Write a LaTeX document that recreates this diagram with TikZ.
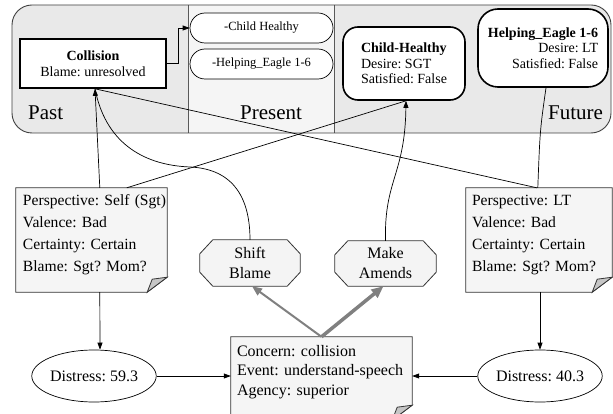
\documentclass[tikz,border=0pt]{standalone}
\usepackage{fontspec}
\setmainfont{Liberation Serif}
\usetikzlibrary{calc,shapes.geometric,arrows.meta,backgrounds}
\newcommand\mynote[2]{%
  \path[notefill] (#1.north west) -- (#1.north east) -- ($(#1.south east)+(0,#2-15)$) -- ($(#1.south east)+(-20,#2)$) -- ($(#1.south west)+(0,#2)$) -- cycle;
  \path[foldfill] ($(#1.south east)+(-20,#2)$) -- ($(#1.south east)+(0,#2-15)$) -- ($(#1.south east)+(-15,#2-13)$) -- cycle;}
\newcommand\myocto[1]{%
  \path[octfill] ($(#1.north west)+(13,0)$) -- ($(#1.north east)+(-13,0)$) -- ($(#1.north east)+(0,14)$) -- ($(#1.south east)+(0,-14)$) -- ($(#1.south east)+(-13,0)$) -- ($(#1.south west)+(13,0)$) -- ($(#1.south west)+(0,-14)$) -- ($(#1.north west)+(0,14)$) -- cycle;}
\begin{document}
\frenchspacing
\begin{tikzpicture}[x=1pt,y=-1pt,
  line/.style={draw=black, line width=0.7pt},
  tip/.style={-{Triangle[length=7pt,width=5pt]}},
  gline/.style={draw=gray},
  seclab/.style={anchor=base west, inner sep=0pt, font=\fontsize{21}{24}\selectfont},
  collbox/.style={draw, line width=1.6pt, fill=white, minimum width=146pt, minimum height=49pt, align=center, inner sep=0pt, font=\fontsize{14}{16}\selectfont},
  pill/.style={draw, line width=0.7pt, fill=white, rounded corners=15pt, minimum width=143pt, minimum height=30pt, inner sep=0pt, font=\fontsize{12.5}{14}\selectfont},
  goal/.style={draw, line width=1.6pt, fill=white, inner sep=0pt, font=\fontsize{14}{15.5}\selectfont},
  notetext/.style={inner xsep=7pt, inner ysep=0pt, minimum height=94pt, align=left, font=\fontsize{15.6}{22}\selectfont},
  notefill/.style={draw=black!80, line width=0.8pt, fill=gray!8},
  foldfill/.style={draw=black!80, line width=0.8pt, fill=gray!45},
  octo/.style={minimum width=100pt, minimum height=46pt, inner sep=0pt, align=center, font=\fontsize{16}{20}\selectfont},
  octfill/.style={draw=black!80, line width=0.8pt, fill=gray!9},
  dist/.style={ellipse, draw, line width=0.7pt, fill=white, minimum height=52pt, inner sep=0pt, font=\fontsize{16}{18}\selectfont}
]
\useasboundingbox (0,0) rectangle (613,414);
\begin{scope}[on background layer]
  \fill[white] (0,0) rectangle (613,414);
\end{scope}
% timeline panel
\fill[gray!17, rounded corners=20pt] (12,5) rectangle (611,133);
\fill[gray!8] (188,5) rectangle (334,133);
\draw[black!65, line width=0.8pt] (188,5) -- (188,133) (334,5) -- (334,133);
\draw[black!75, line width=0.9pt, rounded corners=20pt] (12,5) rectangle (611,133);
\node[seclab] (past) at (28,120) {Past};
\node[seclab] (present) at (240,120) {Present};
\node[seclab] (future) at (548,120) {Future};
% panel nodes
\node[collbox] (coll) at (93,63.5) {\textbf{Collision}\\Blame: unresolved};
\node[pill] (pch) at (261.5,28) {-Child Healthy};
\node[pill] (phe) at (261.5,64) {-Helping\_Eagle 1-6};
\node[goal, minimum width=122pt, minimum height=73pt, rounded corners=15pt, align=left] (chg) at (404,63.5) {\textbf{Child-Healthy}\\Desire: SGT\\Satisfied: False};
\node[goal, minimum width=130pt, minimum height=78pt, rounded corners=20pt, align=right] (he) at (543,48) {\textbf{Helping\_Eagle 1-6}\\Desire: LT\\Satisfied: False};
% notes
\node[notetext, text width=137pt] (pl) at (91.5,235) {Perspective:~Self~(Sgt)\\Valence: Bad\\Certainty: Certain\\Blame: Sgt? Mom?};
\node[notetext, text width=134pt, inner xsep=6pt] (pr) at (539,235) {Perspective: LT\\Valence: Bad\\Certainty: Certain\\Blame: Sgt? Mom?};
\node[notetext, text width=169pt, inner xsep=6pt, minimum height=70pt, font=\fontsize{16}{19.5}\selectfont] (con) at (321.5,372) {Concern: collision\\Event:~understand-speech\\Agency: superior};
% coping strategies
\node[octo] (sb) at (250,263) {Shift\\Blame};
\node[octo, minimum width=101pt, minimum height=45pt] (ma) at (385.5,263.5) {Make\\Amends};
\begin{scope}[on background layer]
  \mynote{pl}{10}
  \mynote{pr}{10}
  \mynote{con}{13}
  \myocto{sb}
  \myocto{ma}
\end{scope}
% distress
\node[dist, minimum width=116pt] (d1) at (94,376) {Distress: 59.3};
\node[dist, minimum width=124pt] (d2) at (540,376) {Distress: 40.3};
% connectors
\draw[line, tip] (coll.east) -- ++(12,0) |- (pch.west);
\draw[line, tip] ($(pl.north west)+(84,0)$) -- ($(coll.south)+(2,0)$);
\draw[line] ($(coll.south)+(2,0)$) .. controls (105,140) and (140,165) .. (190,167) .. controls (235,169) and (250,200) .. (sb.north);
\draw[line, tip] (ma.north) .. controls (384,180) and (405,175) .. ($(chg.south)+(2,0)$);
\draw[line] ($(pl.north west)+(111,0)$) -- ($(chg.south)+(2,0)$);
\draw[line] ($(coll.south)+(2,0)$) -- ($(pr.north west)+(71,0)$);
\draw[line] ($(he.south)+(3,0)$) .. controls (540,130) .. ($(pr.north west)+(72,0)$);
\draw[line, tip] ($(pl.south west)+(84,10)$) -- ($(d1.north)+(6,0)$);
\draw[line, tip] ($(d2.north |- pr.south)+(0,10)$) -- (d2.north);
\draw[line, tip] (d1.east) -- (d1.east -| con.west);
\draw[line, tip] (d2.west) -- (d2.west -| con.east);
\draw[gline, line width=2pt, -{Triangle[length=10pt,width=8pt]}] (con.north) -- ($(sb.south)+(2,0)$);
\draw[gline, line width=3.5pt, -{Triangle[length=12pt,width=10pt]}] (con.north) -- ($(ma.south)+(-2,0)$);
\end{tikzpicture}
\end{document}
